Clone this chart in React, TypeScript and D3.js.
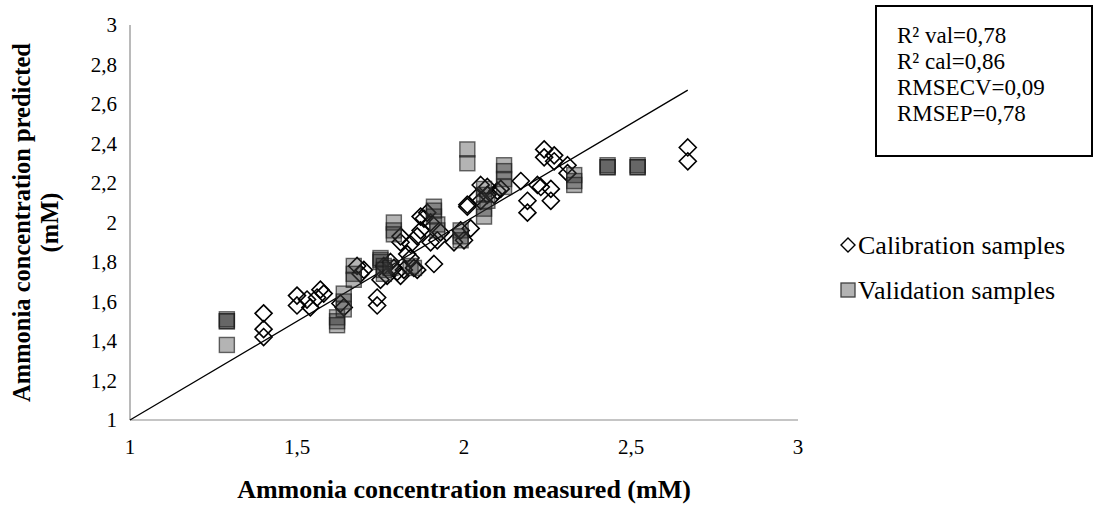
import React from "react";
import * as d3 from "d3";

const calX = [
  1.40, 1.40, 1.40, 1.50, 1.50, 1.53, 1.54, 1.56, 1.57, 1.58,
  1.63, 1.64, 1.68, 1.69, 1.70, 1.74, 1.74, 1.75, 1.77, 1.76,
  1.78, 1.80, 1.81, 1.82, 1.79, 1.85, 1.86, 1.83, 1.84, 1.84,
  1.81, 1.81, 1.86, 1.87, 1.87, 1.89, 1.88, 1.90, 1.90, 1.91,
  1.92, 1.93, 1.97, 1.99, 2.00, 2.02, 2.01, 2.01, 2.04, 2.05,
  2.07, 2.05, 2.07, 2.09, 2.10, 2.11, 2.17, 2.19, 2.19, 2.22,
  2.23, 2.26, 2.26, 2.24, 2.24, 2.27, 2.27, 2.31, 2.31, 2.67,
  2.67,
];
const calY = [
  1.54, 1.46, 1.42, 1.63, 1.58, 1.61, 1.57, 1.62, 1.66, 1.64,
  1.59, 1.57, 1.78, 1.74, 1.76, 1.62, 1.58, 1.71, 1.73, 1.78,
  1.80, 1.75, 1.73, 1.76, 1.77, 1.77, 1.76, 1.84, 1.82, 1.89,
  1.93, 1.90, 1.93, 1.96, 2.03, 2.05, 2.02, 2.00, 1.90, 1.79,
  1.91, 1.95, 1.90, 1.96, 1.91, 1.97, 2.08, 2.09, 2.13, 2.19,
  2.18, 2.11, 2.14, 2.14, 2.16, 2.17, 2.21, 2.11, 2.05, 2.19,
  2.18, 2.17, 2.11, 2.37, 2.33, 2.34, 2.31, 2.29, 2.25, 2.38,
  2.31,
];

const valX = [
  1.29, 1.29, 1.29, 1.29,
  1.62, 1.62, 1.62, 1.64, 1.64, 1.64,
  1.67, 1.67, 1.67,
  1.75, 1.75, 1.75, 1.76, 1.76, 1.76, 1.78,
  1.79, 1.79, 1.79,
  1.84, 1.85,
  1.91, 1.91, 1.91, 1.92, 1.92,
  1.99, 1.99, 1.99,
  2.01, 2.01,
  2.06, 2.06, 2.07, 2.06, 2.06,
  2.12, 2.12, 2.12, 2.12,
  2.33, 2.33, 2.33,
  2.43, 2.43, 2.43,
  2.52, 2.52, 2.52,
];
const valY = [
  1.50, 1.51, 1.50, 1.38,
  1.52, 1.50, 1.48, 1.64, 1.60, 1.56,
  1.78, 1.74, 1.71,
  1.82, 1.81, 1.80, 1.78, 1.76, 1.74, 1.77,
  2.00, 1.96, 1.94,
  1.78, 1.77,
  2.08, 2.06, 2.03, 1.99, 1.96,
  1.96, 1.93, 1.91,
  2.37, 2.30,
  2.17, 2.14, 2.11, 2.07, 2.03,
  2.29, 2.26, 2.22, 2.18,
  2.24, 2.21, 2.19,
  2.29, 2.28, 2.28,
  2.29, 2.28, 2.28,
];

const xTicks = [1, 1.5, 2, 2.5, 3];
const yTicks = [1, 1.2, 1.4, 1.6, 1.8, 2, 2.2, 2.4, 2.6, 2.8, 3];
const lineX = [1, 2.67];
const statsLines = ["R² val=0,78", "R² cal=0,86", "RMSECV=0,09", "RMSEP=0,78"];
const legendLabels = ["Calibration samples", "Validation samples"];

const FONT = "Times New Roman";

const fmt = (d: number) => String(d).replace(".", ",");

export default function App() {
  const W = 1095;
  const H = 506;
  const x = d3.scaleLinear().domain([1, 3]).range([130, 798]);
  const y = d3.scaleLinear().domain([1, 3]).range([420, 25]);

  const diamond = (r: number) => `M0,${-r}L${r},0L0,${r}L${-r},0Z`;
  const sq = 15;

  const line = d3
    .line<number>()
    .x((d) => x(d))
    .y((d) => y(d));

  const cal = calX.map((v, i) => ({ x: v, y: calY[i] }));
  const val = valX.map((v, i) => ({ x: v, y: valY[i] }));
  const ts = { fontFamily: `"${FONT}"` };

  return (
    <svg
      width={W}
      height={H}
      style={{ position: "absolute", left: 0, top: 0, display: "block", background: "#fff" }}
    >
      {/* axes */}
      <line x1={x(1)} x2={x(1)} y1={y(3)} y2={y(1)} stroke="#8c8c8c" strokeWidth={1.2} />
      <line x1={x(1)} x2={x(3)} y1={y(1)} y2={y(1)} stroke="#8c8c8c" strokeWidth={1.2} />

      {yTicks.map((t) => (
        <text key={"y" + t} style={ts} fontFamily={FONT} x={117} y={y(t) + 7} textAnchor="end" fontSize={21} fill="#000">
          {fmt(t)}
        </text>
      ))}
      {xTicks.map((t) => (
        <text key={"x" + t} style={ts} fontFamily={FONT} x={x(t)} y={454} textAnchor="middle" fontSize={21} fill="#000">
          {fmt(t)}
        </text>
      ))}

      {/* axis titles */}
      <text style={ts} fontFamily={FONT} x={x(2)} y={498} textAnchor="middle" fontSize={26} fontWeight="bold">
        Ammonia concentration measured (mM)
      </text>
      <g transform={`translate(22,${(y(1) + y(3)) / 2}) rotate(-90)`}>
        <text style={ts} fontFamily={FONT} x={0} y={8} textAnchor="middle" fontSize={24.5} fontWeight="bold">
          Ammonia concentration predicted
        </text>
        <text style={ts} fontFamily={FONT} x={0} y={36} textAnchor="middle" fontSize={24.5} fontWeight="bold">
          (mM)
        </text>
      </g>

      {/* 1:1 line */}
      <path d={line(lineX) || ""} stroke="#000" strokeWidth={1.3} fill="none" />

      {/* calibration diamonds */}
      {cal.map((p, i) => (
        <path
          key={"c" + i}
          d={diamond(8.5)}
          transform={`translate(${x(p.x)},${y(p.y)})`}
          fill="none"
          stroke="#000"
          strokeWidth={1.6}
        />
      ))}

      {/* validation squares */}
      {val.map((p, i) => (
        <rect
          key={"v" + i}
          x={x(p.x) - sq / 2}
          y={y(p.y) - sq / 2}
          width={sq}
          height={sq}
          fill="#333"
          fillOpacity={0.37}
          stroke="#1a1a1a"
          strokeOpacity={0.65}
          strokeWidth={1.4}
        />
      ))}

      {/* legend */}
      <path d={diamond(7)} transform="translate(848,245)" fill="none" stroke="#000" strokeWidth={1.4} />
      <text style={ts} fontFamily={FONT} x={858} y={254} fontSize={26}>
        {legendLabels[0]}
      </text>
      <rect x={841} y={283} width={14} height={14} fill="#b3b3b3" stroke="#404040" strokeWidth={1.3} />
      <text style={ts} fontFamily={FONT} x={858} y={299} fontSize={26}>
        {legendLabels[1]}
      </text>

      {/* stats box */}
      <rect x={876} y={6} width={216} height={150} fill="#fff" stroke="#000" strokeWidth={2} />
      {statsLines.map((s, i) => (
        <text key={"s" + i} style={ts} fontFamily={FONT} x={897} y={43 + i * 26} fontSize={23}>
          {s}
        </text>
      ))}
    </svg>
  );
}
